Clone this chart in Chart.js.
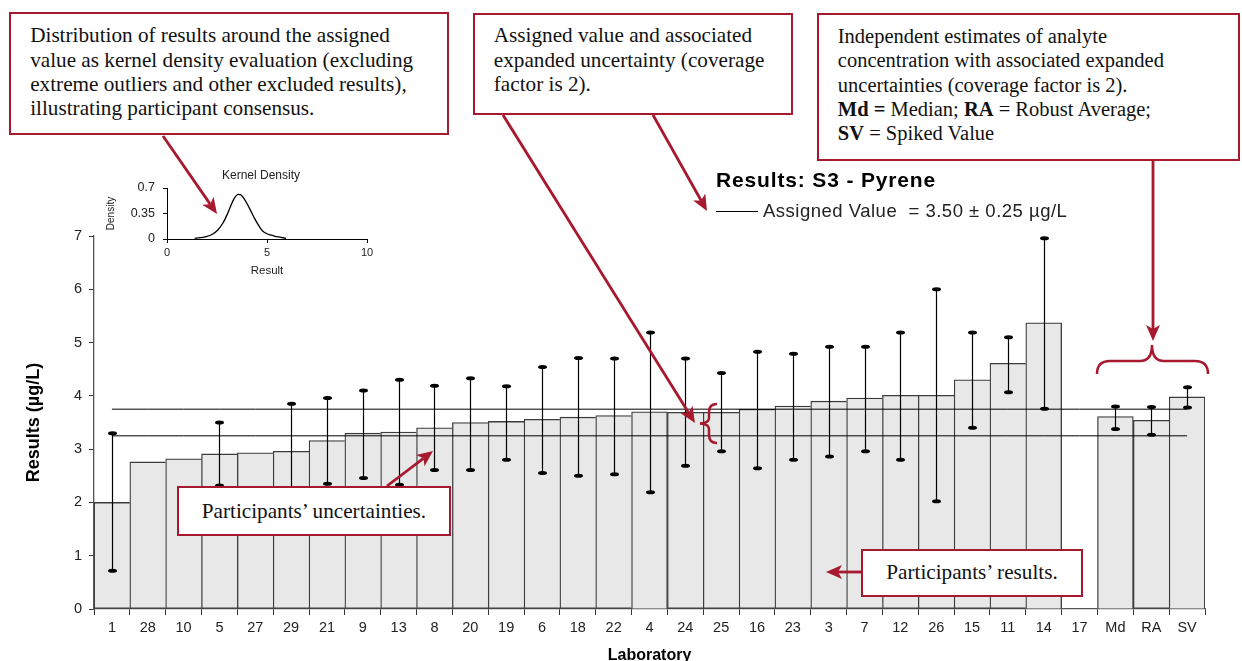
<!DOCTYPE html>
<html>
<head>
<meta charset="utf-8">
<script src="https://cdn.jsdelivr.net/npm/chart.js@4.4.1/dist/chart.umd.min.js"></script>
<style>
html,body{margin:0;padding:0;background:#fff;overflow:hidden;width:1242px;height:661px;}
#wrap{position:relative;width:1242px;height:661px;overflow:hidden;}
canvas{position:absolute;}
#main{left:0;top:0;}
#kde{left:100px;top:160px;}
#arrows{position:absolute;left:0;top:0;}
.box{position:absolute;background:#fff;border:2.5px solid #a6192e;box-sizing:border-box;font-family:"Liberation Serif","Times New Roman",serif;font-size:21.2px;line-height:24.3px;color:#111;white-space:nowrap;}
.lbl{position:absolute;font-family:"Liberation Sans",Arial,sans-serif;white-space:pre;color:#000;}
</style>
</head>
<body>
<div id="wrap">
<canvas id="main" width="1242" height="661"></canvas>
<canvas id="kde" width="290" height="125"></canvas>
<div class="lbl" style="left:222px;top:168px;font-size:12px;line-height:14px;color:#222;">Kernel Density</div>
<div class="lbl" style="left:716px;top:169px;font-size:21px;font-weight:bold;line-height:22px;letter-spacing:0.85px;">Results: S3 - Pyrene</div>
<div style="position:absolute;left:716px;top:211px;width:42px;height:0;border-top:1.5px solid #000;"></div>
<div class="lbl" style="left:763px;top:201px;font-size:18.5px;line-height:20px;color:#222;letter-spacing:0.5px;">Assigned Value  = 3.50 ± 0.25 µg/L</div>
<svg id="arrows" width="1242" height="661"></svg>
<div class="box" style="left:9px;top:12px;width:440px;height:123px;padding:9.4px 0 0 19.2px;">Distribution of results around the assigned<br>value as kernel density evaluation (excluding<br>extreme outliers and other excluded results),<br>illustrating participant consensus.</div>
<div class="box" style="left:473px;top:12.5px;width:320px;height:102px;padding:8.8px 0 0 18.8px;">Assigned value and associated<br>expanded uncertainty (coverage<br>factor is 2).</div>
<div class="box" style="left:817px;top:13px;width:423px;height:148px;padding:9px 0 0 18.8px;font-size:20.5px;">Independent estimates of analyte<br>concentration with associated expanded<br>uncertainties (coverage factor is 2).<br><b>Md =</b> Median; <b>RA</b> = Robust Average;<br><b>SV</b> = Spiked Value</div>
<div class="box" style="left:177px;top:486px;width:274px;height:50px;padding-top:11.4px;text-align:center;">Participants’ uncertainties.</div>
<div class="box" style="left:861px;top:549px;width:222px;height:48px;padding-top:9.1px;text-align:center;">Participants’ results.</div>
</div>
<script>
// ---- data ----
const labs = ['1','28','10','5','27','29','21','9','13','8','20','19','6','18','22','4','24','25','16','23','3','7','12','26','15','11','14','17','Md','RA','SV'];
const results = [2.00,2.76,2.82,2.91,2.93,2.96,3.16,3.30,3.32,3.40,3.50,3.52,3.56,3.60,3.63,3.70,3.69,3.69,3.75,3.81,3.90,3.96,4.01,4.01,4.30,4.61,5.37,null,3.61,3.54,3.98];
const uncHigh = [3.30,null,null,3.50,null,3.85,3.96,4.10,4.30,4.19,4.33,4.18,4.54,4.71,4.70,5.19,4.70,4.43,4.83,4.79,4.92,4.92,5.19,6.00,5.19,5.10,6.96,null,3.80,3.79,4.16];
const uncLow  = [0.72,null,null,2.32,null,2.07,2.35,2.46,2.33,2.61,2.61,2.80,2.55,2.50,2.53,2.19,2.69,2.96,2.64,2.80,2.86,2.96,2.80,2.02,3.40,4.07,3.76,null,3.38,3.27,3.78];
const assignedLow = 3.25;
const assignedHigh = 3.75;
const yTicks = [0,1,2,3,4,5,6,7];
const kdeX = [1.38,1.96,2.29,2.54,2.79,3.04,3.21,3.37,3.57,3.70,3.87,4.12,4.37,4.62,4.78,5.03,5.37,5.70,5.95];
const kdeY = [0.009,0.032,0.069,0.124,0.216,0.355,0.470,0.562,0.613,0.603,0.548,0.424,0.286,0.170,0.111,0.069,0.041,0.023,0.009];
const kdeXTicks = [0,5,10];
const kdeYTicks = [0,0.35,0.7];

const SANS = '"Liberation Sans", Arial, sans-serif';

const errorBarPlugin = {
  id:'errbars',
  afterDatasetsDraw(chart){
    const {ctx, scales:{x,y}} = chart;
    ctx.save();
    ctx.strokeStyle='#000'; ctx.fillStyle='#000'; ctx.lineWidth=1.2;
    for(let i=0;i<labs.length;i++){
      if(uncHigh[i]==null) continue;
      const px = Math.round(x.getPixelForValue(i))+0.5;
      const yh = y.getPixelForValue(uncHigh[i]);
      const yl = y.getPixelForValue(uncLow[i]);
      ctx.beginPath(); ctx.moveTo(px,yh); ctx.lineTo(px,yl); ctx.stroke();
      for(const yy of [yh,yl]){ ctx.beginPath(); ctx.ellipse(px,yy,4.5,2,0,0,Math.PI*2); ctx.fill(); }
    }
    ctx.restore();
  }
};

new Chart(document.getElementById('main'), {
  type:'bar',
  data:{
    labels: labs,
    datasets:[
      {type:'line', data: labs.map(()=>assignedHigh), borderColor:'#000', borderWidth:1, pointRadius:0, order:0},
      {type:'line', data: labs.map(()=>assignedLow), borderColor:'#000', borderWidth:1, pointRadius:0, order:0},
      {type:'bar', data: results, backgroundColor:'#e8e8e8', borderColor:'#3c3c3c', borderWidth:1.3,
       barPercentage:1, categoryPercentage:1, order:1,
       borderSkipped:(c)=>{ const i=c.dataIndex, v=results[i], n=results[i+1]; return (n!=null && v!=null && n>=v) ? 'right' : 'start'; }}
    ]
  },
  options:{
    responsive:false, animation:false, devicePixelRatio:1,
    layout:{padding:{left:0,right:37,top:236,bottom:0}},
    plugins:{legend:{display:false}, tooltip:{enabled:false}},
    scales:{
      x:{
        offset:true,
        grid:{display:true, drawOnChartArea:false, drawTicks:true, tickLength:6, color:'#333', offset:true},
        border:{display:true, color:'#555', width:1.3},
        ticks:{font:{family:SANS,size:14.5}, color:'#222', padding:4.5, autoSkip:false, maxRotation:0},
        title:{display:true, text:'Laboratory', color:'#000', font:{family:SANS,size:16,weight:'bold',lineHeight:0.7}, padding:{top:0,bottom:0}},
        afterFit(s){ s.height = 52; }
      },
      y:{
        min:0, max:7,
        afterBuildTicks(s){ s.ticks = yTicks.map(v=>({value:v})); },
        ticks:{font:{family:SANS,size:14.5}, color:'#222', padding:7},
        grid:{drawOnChartArea:false, tickLength:5, color:'#333'},
        border:{color:'#555', width:1.3},
        title:{display:true, text:'Results (µg/L)', color:'#000', font:{family:SANS,size:18,weight:'bold'}, padding:{top:23,bottom:0}},
        afterFit(s){ s.width = 94; }
      }
    }
  },
  plugins:[errorBarPlugin]
});

new Chart(document.getElementById('kde'), {
  type:'line',
  data:{datasets:[{data: kdeX.map((x,i)=>({x:x, y:kdeY[i]})), borderColor:'#000', borderWidth:1.3, pointRadius:0, cubicInterpolationMode:'monotone', fill:false}]},
  options:{
    responsive:false, animation:false, devicePixelRatio:1,
    layout:{padding:{left:0,right:23,top:28,bottom:0}},
    plugins:{legend:{display:false}, tooltip:{enabled:false}},
    scales:{
      x:{type:'linear', min:0, max:10,
        afterBuildTicks(s){ s.ticks = kdeXTicks.map(v=>({value:v})); },
        ticks:{font:{family:SANS,size:11}, color:'#222', padding:3, callback:(v)=>String(v)},
        grid:{drawOnChartArea:false, tickLength:4, color:'#000'},
        border:{color:'#000', width:1},
        title:{display:true, text:'Result', color:'#222', font:{family:SANS,size:11.5}, padding:{top:0,bottom:7}},
        afterFit(s){ s.height = 46; }
      },
      y:{min:0, max:0.7,
        afterBuildTicks(s){ s.ticks = kdeYTicks.map(v=>({value:v})); },
        ticks:{font:{family:SANS,size:12.5}, color:'#222', padding:8, callback:(v)=>String(v)},
        grid:{drawOnChartArea:false, tickLength:4, color:'#000'},
        border:{color:'#000', width:1},
        title:{display:true, text:'Density', color:'#222', font:{family:SANS,size:10}, padding:{top:5,bottom:0}},
        afterFit(s){ s.width = 67; }
      }
    }
  }
});

// ---- annotation arrows & braces ----
const svg = document.getElementById('arrows');
const NS = 'http://www.w3.org/2000/svg';
const RED = '#a6192e';
function el(tag, attrs){ const e=document.createElementNS(NS,tag); for(const k in attrs) e.setAttribute(k,attrs[k]); svg.appendChild(e); return e; }
function arrow(x1,y1,x2,y2){
  const dx=x2-x1, dy=y2-y1, L=Math.hypot(dx,dy), ux=dx/L, uy=dy/L;
  const hl=16, hw=7;
  const bx=x2-ux*hl, by=y2-uy*hl;
  el('line',{x1:x1,y1:y1,x2:bx+ux*4,y2:by+uy*4,stroke:RED,'stroke-width':2.8});
  const pts=[[x2,y2],[bx-uy*hw,by+ux*hw],[bx+ux*4,by+uy*4],[bx+uy*hw,by-ux*hw]];
  el('polygon',{points:pts.map(p=>p.join(',')).join(' '),fill:RED});
}
arrow(163,136,217,214);
arrow(503,115,695,423);
arrow(653,115,707,211);
arrow(1153,161,1153,341);
arrow(387,486,433,451);
arrow(861,572,826,572);
el('path',{d:'M717 404 Q709 404 709 412 L709 418 Q709 423 700 423.5 Q709 424 709 429 L709 435 Q709 443 717 443',fill:'none',stroke:RED,'stroke-width':2.5});
el('path',{d:'M1097 374 Q1097 361 1110 361 L1140 361 Q1152 361 1152 345 Q1152 361 1164 361 L1195 361 Q1208 361 1208 374',fill:'none',stroke:RED,'stroke-width':2.5});
</script>
</body>
</html>
